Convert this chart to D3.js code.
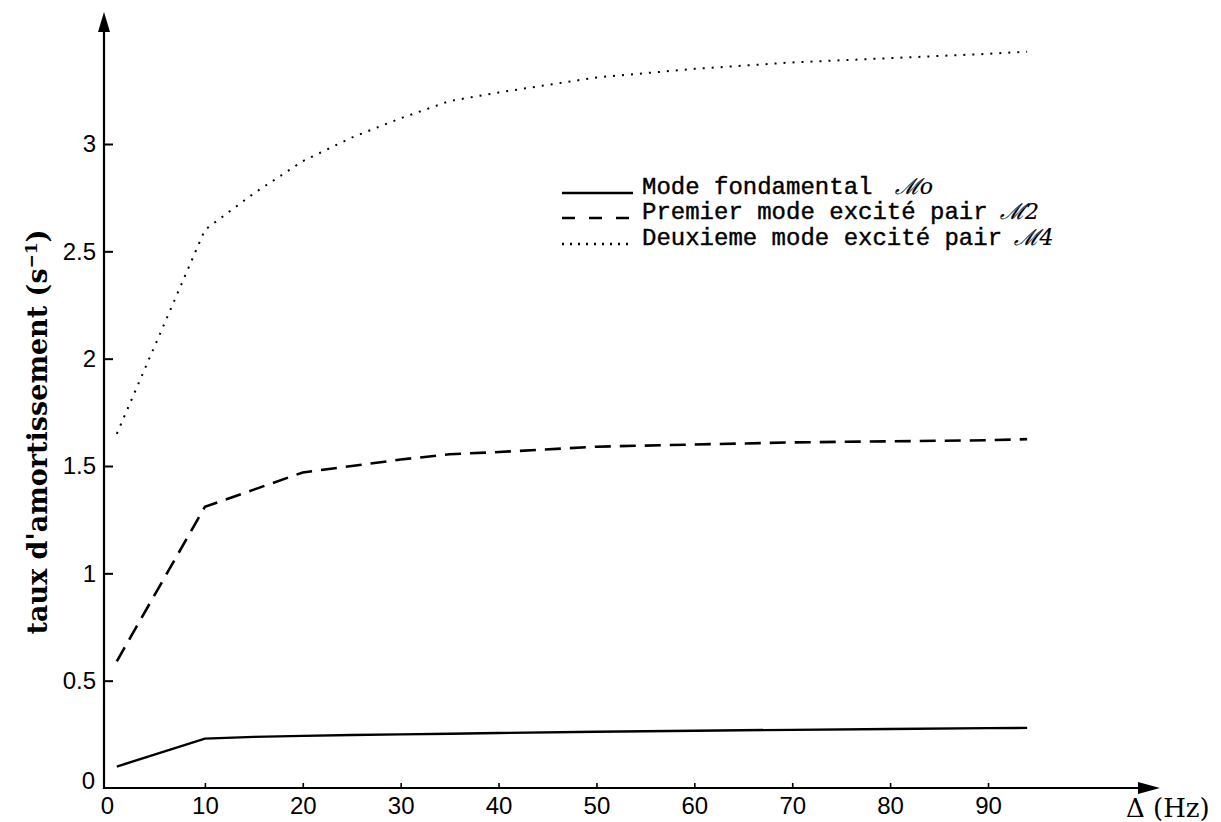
<!DOCTYPE html>
<html>
<head>
<meta charset="utf-8">
<script src="https://cdn.jsdelivr.net/npm/d3@7"></script>
<style>
  html, body { margin: 0; padding: 0; background: #fff; }
  #chart-container { width: 1221px; height: 822px; }
</style>
</head>
<body>
<div id="chart-container"></div>
<script>
// Data: damping rate vs detuning Delta (Hz).
const deltaHz = [1, 10, 15, 20, 25, 30, 35, 40, 50, 60, 70, 80, 90, 94];
const modeFondamental = [0.10, 0.23, 0.238, 0.243, 0.247, 0.25, 0.253, 0.256, 0.262, 0.267, 0.271, 0.275, 0.279, 0.28];
const premierMode = [0.59, 1.31, 1.39, 1.47, 1.50, 1.53, 1.555, 1.565, 1.59, 1.60, 1.61, 1.615, 1.62, 1.625];
const deuxiemeMode = [1.65, 2.60, 2.77, 2.92, 3.03, 3.12, 3.20, 3.24, 3.31, 3.35, 3.38, 3.40, 3.42, 3.43];
const xTicks = [0, 10, 20, 30, 40, 50, 60, 70, 80, 90];
const yTicks = [0, 0.5, 1, 1.5, 2, 2.5, 3];
const legendLabels = ["Mode fondamental", "Premier mode excit\u00e9 pair", "Deuxieme mode excit\u00e9 pair"];
const legendSubscripts = ["o", "2", "4"];

// Declare the chart dimensions.
const width = 1221;
const height = 822;

// Declare the scales (0 -> 90 Hz, 0 -> 3 s^-1).
const x = d3.scaleLinear()
    .domain([0, 90])
    .range([107, 988]);

const y = d3.scaleLinear()
    .domain([0, 3])
    .range([788, 144]);

// Create the SVG container.
const svg = d3.create("svg")
    .attr("width", width)
    .attr("height", height)
    .style("background", "#fff");

// Axis lines with arrow heads.
const axisX0 = x(0) - 3, axisXEnd = 1160;
const axisYTop = 12;
svg.append("line")
    .attr("x1", axisX0).attr("y1", y(0))
    .attr("x2", axisXEnd - 10).attr("y2", y(0))
    .attr("stroke", "#000").attr("stroke-width", 2.2);
svg.append("path")
    .attr("d", `M${axisXEnd},${y(0)}L${axisXEnd - 22},${y(0) - 6}L${axisXEnd - 22},${y(0) + 6}Z`)
    .attr("fill", "#000");
svg.append("line")
    .attr("x1", axisX0).attr("y1", y(0) + 1)
    .attr("x2", axisX0).attr("y2", axisYTop + 10)
    .attr("stroke", "#000").attr("stroke-width", 2.2);
svg.append("path")
    .attr("d", `M${axisX0},${axisYTop}L${axisX0 - 6},${axisYTop + 20}L${axisX0 + 6},${axisYTop + 20}Z`)
    .attr("fill", "#000");

// Add the x-axis (ticks point inward).
const gx = svg.append("g")
    .attr("transform", `translate(0,${y(0)})`)
    .call(d3.axisBottom(x).tickValues(xTicks).tickSize(-5).tickSizeOuter(0).tickPadding(9).tickFormat(d => d));
gx.select(".domain").remove();
gx.selectAll(".tick line").attr("stroke-width", 1.6).filter(d => d === 0).remove();
gx.selectAll(".tick text")
    .attr("font-family", "Liberation Sans, Arial, sans-serif")
    .attr("font-size", 24)
    .attr("fill", "#000");

// Add the y-axis (ticks point inward).
const gy = svg.append("g")
    .attr("transform", `translate(${axisX0},0)`)
    .call(d3.axisLeft(y).tickValues(yTicks).tickSize(-9).tickSizeOuter(0).tickPadding(8).tickFormat(d => d));
gy.select(".domain").remove();
gy.selectAll(".tick line").attr("stroke-width", 2).filter(d => d === 0).remove();
gy.selectAll(".tick text")
    .attr("font-family", "Liberation Sans, Arial, sans-serif")
    .attr("font-size", 24)
    .attr("fill", "#000")
    .filter(d => d === 0)
    .attr("transform", "translate(-1,-7)");

// Series
const series = [
  { values: modeFondamental, dash: null, width: 2.4 },
  { values: premierMode, dash: "16 9", width: 2.6 },
  { values: deuxiemeMode, dash: "2 7", width: 2 }
];

const line = d3.line()
    .x((d, i) => x(deltaHz[i]))
    .y(d => y(d));

svg.selectAll("path.series")
  .data(series)
  .join("path")
    .attr("class", "series")
    .attr("d", d => line(d.values))
    .attr("fill", "none")
    .attr("stroke", "#000")
    .attr("stroke-width", d => d.width)
    .attr("stroke-dasharray", d => d.dash);

// Legend
const legendDash = [null, "13 14", "2 6"];
const legendY = [193, 218, 244];
const legend = svg.append("g");
legend.selectAll("line")
  .data(legendLabels)
  .join("line")
    .attr("x1", 562).attr("x2", 633)
    .attr("y1", (d, i) => legendY[i]).attr("y2", (d, i) => legendY[i])
    .attr("stroke", "#000")
    .attr("stroke-width", 2.4)
    .attr("stroke-dasharray", (d, i) => legendDash[i]);

const legendText = legend.selectAll("text")
  .data(legendLabels)
  .join("text")
    .attr("x", 642)
    .attr("y", (d, i) => legendY[i] + 1)
    .attr("font-family", "Liberation Mono, Courier New, monospace")
    .attr("font-size", 24)
    .attr("fill", "#000")
    .attr("stroke", "#000")
    .attr("stroke-width", 0.4);
legendText.append("tspan").text(d => d + " ");
legendText.append("tspan")
    .attr("dx", (d, i) => i === 0 ? 8 : -2)
    .attr("font-family", "DejaVu Serif, serif")
    .attr("font-style", "italic")
    .attr("font-size", 22)
    .attr("stroke-width", 0.2)
    .text((d, i) => "\u2133" + legendSubscripts[i]);

// Y-axis label
const yLabel = svg.append("text")
    .attr("transform", "translate(47,432) rotate(-90)")
    .attr("text-anchor", "middle")
    .attr("font-family", "DejaVu Serif, serif")
    .attr("font-weight", "bold")
    .attr("font-size", 27)
    .attr("fill", "#000");
yLabel.append("tspan").text("taux d'amortissement (s");
yLabel.append("tspan").attr("dy", -10).attr("font-size", 17).text("\u22121");
yLabel.append("tspan").attr("dy", 10).text(")");

// X-axis label
svg.append("text")
    .attr("x", 1126)
    .attr("y", 817)
    .attr("font-family", "DejaVu Serif, serif")
    .attr("font-size", 26)
    .attr("fill", "#000")
    .text("\u0394 (Hz)");

// Append the SVG element.
d3.select("#chart-container").append(() => svg.node());
</script>
</body>
</html>
